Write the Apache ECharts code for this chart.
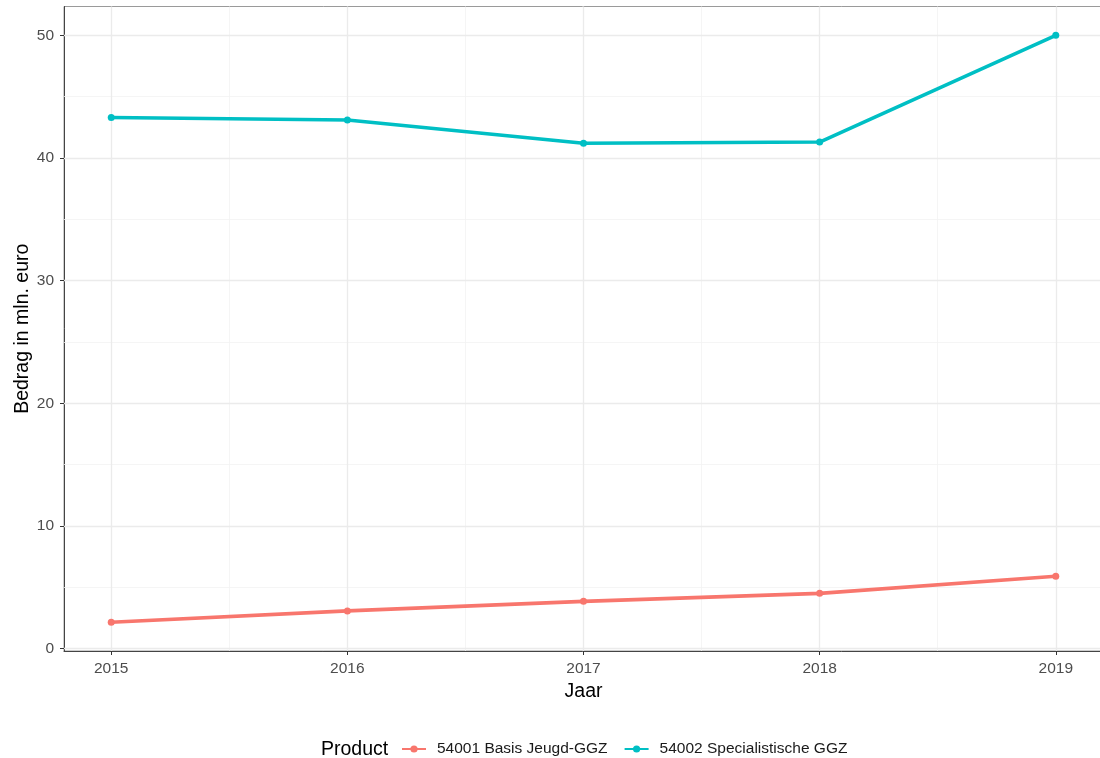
<!DOCTYPE html>
<html>
<head>
<meta charset="utf-8">
<script src="https://cdn.jsdelivr.net/npm/echarts@6/dist/echarts.min.js"></script>
<style>
html,body{margin:0;padding:0;background:#fff;}
#chart{width:1100px;height:758px;}
</style>
</head>
<body>
<div id="chart"></div>
<script>
const years = [2015, 2016, 2017, 2018, 2019];
const basisJeugd = [2.14, 3.07, 3.85, 4.5, 5.9];
const specialistisch = [43.3, 43.1, 41.2, 41.3, 50.0];
const seriesNames = ['54001 Basis Jeugd-GGZ', '54002 Specialistische GGZ'];
const yTicks = [0, 10, 20, 30, 40, 50];
const yMinor = [5, 15, 25, 35, 45];
const xMinor = [2015.5, 2016.5, 2017.5, 2018.5];
const colors = ['#F8766D', '#00BFC4'];

const FONT = '"Liberation Sans", Arial, sans-serif';
const toPairs = vals => years.map((y, i) => [y, vals[i]]);

const gridLines = [];
yMinor.forEach(v => gridLines.push({ yAxis: v, lineStyle: { color: '#F2F2F2', width: 0.8, type: 'solid' } }));
xMinor.forEach(v => gridLines.push({ xAxis: v, lineStyle: { color: '#F2F2F2', width: 0.8, type: 'solid' } }));
yTicks.forEach(v => gridLines.push({ yAxis: v, lineStyle: { color: '#EBEBEB', width: 1.3, type: 'solid' } }));
years.forEach(v => gridLines.push({ xAxis: v, lineStyle: { color: '#EBEBEB', width: 1.3, type: 'solid' } }));

const chart = echarts.init(document.getElementById('chart'), null, { renderer: 'canvas' });
chart.setOption({
  animation: false,
  backgroundColor: '#ffffff',
  textStyle: { fontFamily: FONT },
  title: {
    text: 'Product',
    left: 316,
    top: 735,
    textStyle: { fontFamily: FONT, fontSize: 19.5, fontWeight: 'normal', color: '#000' }
  },
  legend: {
    data: seriesNames,
    left: 396,
    top: 736,
    itemWidth: 24,
    itemHeight: 9,
    itemGap: 16,
    textStyle: { fontFamily: FONT, fontSize: 15.5, color: '#1a1a1a', padding: [0, 0, 0, 6] }
  },
  grid: {
    left: 64, width: 1039, top: 6.5, bottom: 107,
    outerBoundsMode: 'none',
    containLabel: false,
    show: true, borderColor: '#9a9a9a', borderWidth: 1, backgroundColor: 'transparent'
  },
  xAxis: {
    type: 'value',
    min: 2014.8,
    max: 2019.2,
    name: 'Jaar',
    nameLocation: 'middle',
    nameGap: 31,
    nameMoveOverlap: false,
    nameTextStyle: { fontFamily: FONT, fontSize: 19.5, color: '#000' },
    axisLine: { show: true, onZero: false, lineStyle: { color: '#444', width: 1 } },
    axisTick: { show: true, length: 4, customValues: years, lineStyle: { color: '#333', width: 1 } },
    axisLabel: { customValues: years, margin: 10, fontFamily: FONT, fontSize: 15.5, color: '#4D4D4D', formatter: v => String(v) },
    splitLine: { show: false },
    minorSplitLine: { show: false }
  },
  yAxis: {
    type: 'value',
    min: -0.2,
    max: 52.35,
    name: 'Bedrag in mln. euro',
    nameLocation: 'middle',
    nameRotate: 90,
    nameGap: 31,
    nameMoveOverlap: false,
    nameTextStyle: { fontFamily: FONT, fontSize: 19.5, color: '#000' },
    axisLine: { show: true, onZero: false, lineStyle: { color: '#444', width: 1 } },
    axisTick: { show: true, length: 4, customValues: yTicks, lineStyle: { color: '#333', width: 1 } },
    axisLabel: { customValues: yTicks, margin: 10, fontFamily: FONT, fontSize: 15.5, color: '#4D4D4D' },
    splitLine: { show: false },
    minorSplitLine: { show: false }
  },
  series: [
    {
      name: '__grid',
      type: 'line',
      data: [],
      z: 1,
      silent: true,
      markLine: { silent: true, z: 1, symbol: 'none', label: { show: false }, animation: false, data: gridLines }
    },
    {
      name: seriesNames[0],
      type: 'line',
      z: 3,
      data: toPairs(basisJeugd),
      color: colors[0],
      lineStyle: { width: 3.6, color: colors[0] },
      itemStyle: { color: colors[0], borderWidth: 0 },
      symbol: 'circle',
      symbolSize: 7,
      showSymbol: true
    },
    {
      name: seriesNames[1],
      type: 'line',
      z: 3,
      data: toPairs(specialistisch),
      color: colors[1],
      lineStyle: { width: 3.6, color: colors[1] },
      itemStyle: { color: colors[1], borderWidth: 0 },
      symbol: 'circle',
      symbolSize: 7,
      showSymbol: true
    }
  ]
});
</script>
</body>
</html>
